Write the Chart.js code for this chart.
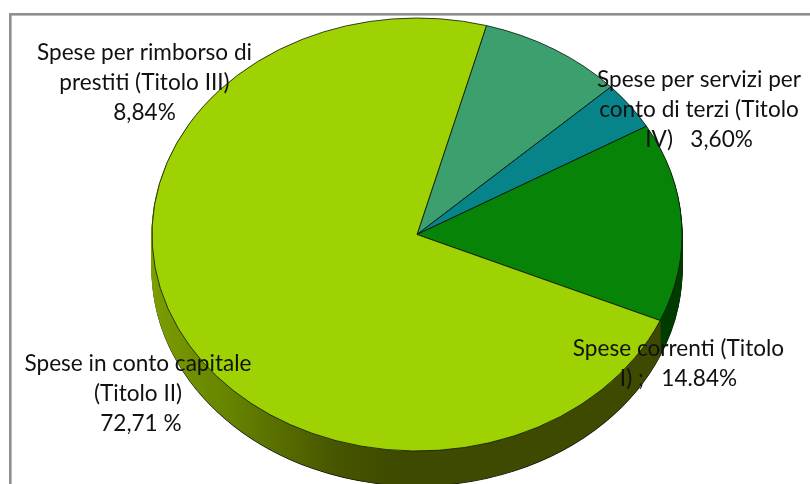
<!DOCTYPE html>
<html>
<head>
<meta charset="utf-8">
<style>html,body{margin:0;padding:0;background:#fff;overflow:hidden}#w{width:810px;height:484px;position:relative}</style>
<script src="https://cdn.jsdelivr.net/npm/chart.js@4"></script>
</head>
<body>
<div id="w"><canvas id="c" width="810" height="484"></canvas></div>
<script>
const categories = ["Spese per rimborso di prestiti (Titolo III)","Spese per servizi per conto di terzi (Titolo IV)","Spese correnti (Titolo I)","Spese in conto capitale (Titolo II)"];
const values = [8.84, 3.60, 14.84, 72.71];
const colors = ["#3c9f6e","#07838a","#078307","#9fd203"];
const labelRimborso = ["Spese per rimborso di","prestiti (Titolo III)","8,84%"];
const labelTerzi = ["Spese per servizi per","conto di terzi (Titolo","IV)   3,60%"];
const labelCorrenti = ["Spese correnti (Titolo","I) ;   14.84%"];
const labelCapitale = ["Spese in conto capitale","(Titolo II)"," 72,71 %"];

const CX=417, CY=234.5, RX=265, RY=216.5, DEPTH=35;

function withEllipse(ctx, arc, dy, fn){
  ctx.save();
  ctx.translate(CX, CY+dy);
  ctx.scale(RX/arc.outerRadius, RY/arc.outerRadius);
  ctx.translate(-arc.x, -arc.y);
  fn();
  ctx.restore();
}
function sideFill(ctx, arc, i){
  if(i===2) return "#003d00";
  if(i===3){
    const k=arc.outerRadius/RX;
    const g=ctx.createLinearGradient(arc.x+(150-CX)*k,0,arc.x+(400-CX)*k,0);
    g.addColorStop(0,"#7c9e00");
    g.addColorStop(0.35,"#648000");
    g.addColorStop(0.75,"#465500");
    g.addColorStop(1,"#3e4a00");
    return g;
  }
  return "#222";
}
function drawAs(arc, ctx, bg, bc, bw){
  const o=Object.assign({}, arc.options, {backgroundColor:bg,borderColor:bc,borderWidth:bw});
  const proxy=Object.create(arc,{options:{value:o}});
  Chart.ArcElement.prototype.draw.call(proxy, ctx);
}
const pie3d={
  id:"pie3d",
  beforeDraw(chart){
    const ctx=chart.ctx;
    ctx.save();
    ctx.fillStyle="#8f8f8f";
    ctx.fillRect(9,13,801,2.6);
    ctx.fillRect(9,13,2.6,471);
    ctx.restore();
  },
  beforeDatasetsDraw(chart){
    const ctx=chart.ctx, arcs=chart.getDatasetMeta(0).data;
    for(let d=DEPTH;d>=1;d--){
      [0,1,2,3].forEach(i=>{
        const a=arcs[i];
        withEllipse(ctx,a,d,()=>{
          const f=sideFill(ctx,a,i);
          drawAs(a,ctx,f,d===DEPTH?"#111111":f,1);
        });
      });
    }
    ctx.save();
    ctx.translate(CX,CY);
    ctx.scale(RX/arcs[0].outerRadius,RY/arcs[0].outerRadius);
    ctx.translate(-arcs[0].x,-arcs[0].y);
  },
  afterDatasetsDraw(chart){
    chart.ctx.restore();
  },
  afterDraw(chart){
    const ctx=chart.ctx;
    ctx.save();
    ctx.font="22.6px Lato, Carlito, sans-serif";
    ctx.fillStyle="#111";
    ctx.textAlign="center";
    ctx.textBaseline="alphabetic";
    const put=(lines,x,y)=>lines.forEach((t,k)=>ctx.fillText(t,x,y+k*30));
    put(labelRimborso,144.5,60);
    put(labelTerzi,699,87);
    put(labelCorrenti,678.5,356);
    put(labelCapitale,138,371);
    ctx.restore();
  }
};
new Chart(document.getElementById("c"),{
  type:"pie",
  data:{labels:categories,datasets:[{data:values,backgroundColor:colors,borderColor:"#0c140c",borderWidth:0.8,borderAlign:"center"}]},
  options:{
    responsive:false,animation:false,rotation:15.2,
    plugins:{legend:{display:false},tooltip:{enabled:false}},
    events:[]
  },
  plugins:[pie3d]
});
</script>
</body>
</html>
